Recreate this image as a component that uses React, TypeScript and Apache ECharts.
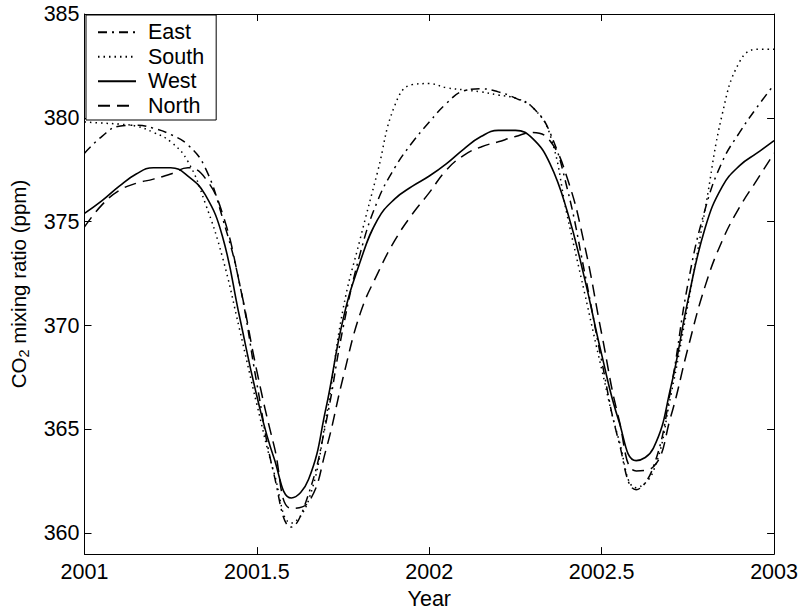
import React, { useEffect, useRef } from "react";
import * as echarts from "echarts";

const years = [
  2001.0, 2001.05, 2001.1, 2001.15, 2001.2, 2001.25, 2001.3, 2001.35, 2001.4, 2001.45,
  2001.5, 2001.55, 2001.6, 2001.65, 2001.7, 2001.75, 2001.8, 2001.85, 2001.9, 2001.95,
  2002.0, 2002.05, 2002.1, 2002.15, 2002.2, 2002.25, 2002.3, 2002.35, 2002.4, 2002.45,
  2002.5, 2002.55, 2002.6, 2002.65, 2002.7, 2002.75, 2002.8, 2002.85, 2002.9, 2002.95,
  2003.0,
];

const east = [
  378.3, 379.1, 379.6, 379.65, 379.5, 379.2, 378.7, 377.6, 375.2, 372.0,
  367.2, 362.8, 360.3, 361.9, 365.3, 369.9, 373.5, 376.0, 377.6, 378.8,
  379.8, 380.7, 381.3, 381.4, 381.25, 380.95, 380.5, 379.3, 376.6, 372.6,
  368.3, 364.4, 362.1, 363.2, 366.9, 372.0, 375.6, 377.9, 379.3, 380.5,
  381.6,
];

const south = [
  379.8, 379.75, 379.7, 379.6, 379.3, 378.85, 377.9, 375.9, 373.3, 369.8,
  366.2, 362.9, 360.5, 361.6, 365.5, 370.8, 374.2, 377.4, 380.6, 381.6,
  381.65, 381.45, 381.35, 381.25, 381.1, 380.95, 380.5, 379.2, 375.3, 371.6,
  367.9, 364.5, 362.2, 363.0, 366.6, 371.0, 375.6, 380.2, 382.7, 383.3,
  383.3,
];

const west = [
  375.4, 376.0, 376.7, 377.3, 377.6, 377.6, 377.2, 376.3, 374.3, 370.4,
  366.6, 363.6, 361.7, 362.6, 366.0, 370.3, 373.1, 375.1, 376.1, 376.7,
  377.2, 377.8, 378.5, 379.1, 379.4, 379.4, 379.0, 377.8, 375.5, 372.3,
  368.6, 365.4, 363.5, 364.1, 367.0, 371.2, 374.7, 376.7, 377.7, 378.3,
  378.9,
];

const north = [
  374.75, 375.8, 376.5, 376.85, 377.05, 377.3, 377.6, 377.1, 375.4, 372.0,
  367.8, 364.2, 361.2, 361.5, 364.0, 367.5, 370.6, 372.5, 374.1, 375.35,
  376.4, 377.5, 378.2, 378.6, 378.85, 379.1, 379.3, 378.9, 377.1, 373.9,
  369.6, 365.5, 363.0, 363.2, 365.6, 368.9, 371.9, 374.1, 375.7, 377.0,
  378.3,
];

const xTicks = [2001, 2001.5, 2002, 2002.5, 2003];
const yTicks = [360, 365, 370, 375, 380, 385];

const FONT = "'Liberation Sans', Arial, Helvetica, sans-serif";
const FS = 21.5;

export default function App() {
  const ref = useRef<HTMLDivElement>(null);

  useEffect(() => {
    if (!ref.current) return;
    const chart = echarts.init(ref.current, null, { renderer: "svg" });

    const axisLine = { show: true, onZero: false, lineStyle: { color: "#000", width: 1 } };
    const mk = (name: string, vals: number[], type: any, width = 1.5) => ({
      name,
      type: "line",
      xAxisIndex: 0,
      yAxisIndex: 0,
      data: years.map((x, i) => [x, vals[i]]),
      smooth: 0.45,
      symbol: "none",
      showSymbol: false,
      lineStyle: { color: "#000", width, type },
      itemStyle: { color: "#000" },
    });

    chart.setOption({
      animation: false,
      backgroundColor: "#fff",
      textStyle: { fontFamily: FONT },
      grid: { left: 82, right: 26, top: 14, bottom: 56, containLabel: false },
      legend: {
        orient: "vertical",
        left: 86,
        top: 15,
        padding: [5, 12, 2, 11],
        itemGap: 0,
        itemWidth: 38,
        itemHeight: 14,
        backgroundColor: "#fff",
        borderColor: "#000",
        borderWidth: 1,
        borderRadius: 0,
        itemStyle: { color: "rgba(0,0,0,0)", borderColor: "rgba(0,0,0,0)", borderWidth: 0, opacity: 0 },
        textStyle: { color: "#000", fontSize: FS, fontFamily: FONT, lineHeight: 24.5, padding: [0, 0, 0, 7] },
        data: ["East", "South", "West", "North"],
      },
      xAxis: [
        {
          type: "value",
          min: 2001,
          max: 2003,
          position: "bottom",
          axisLine,
          axisTick: { show: true, inside: true, length: 7, customValues: xTicks, lineStyle: { color: "#000" } },
          axisLabel: {
            customValues: xTicks,
            formatter: (v: number) => String(v),
            color: "#000",
            fontSize: FS,
            fontFamily: FONT,
            margin: 7,
          },
          splitLine: { show: false },
          name: "Year",
          nameLocation: "middle",
          nameGap: 31,
          nameTextStyle: { color: "#000", fontSize: FS, fontFamily: FONT },
        },
        {
          type: "value",
          min: 2001,
          max: 2003,
          position: "top",
          axisLine,
          axisTick: { show: true, inside: true, length: 7, customValues: xTicks, lineStyle: { color: "#000" } },
          axisLabel: { show: false },
          splitLine: { show: false },
        },
      ],
      yAxis: [
        {
          type: "value",
          min: 359,
          max: 385,
          position: "left",
          axisLine,
          axisTick: { show: true, inside: true, length: 7, customValues: yTicks, lineStyle: { color: "#000" } },
          axisLabel: {
            customValues: yTicks,
            formatter: (v: number) => String(v),
            color: "#000",
            fontSize: FS,
            fontFamily: FONT,
            margin: 5,
          },
          splitLine: { show: false },
          name: "{a|CO}{b|2}{a| mixing ratio (ppm)}",
          nameLocation: "middle",
          nameGap: 53,
          nameTextStyle: {
            color: "#000",
            fontFamily: FONT,
            rich: {
              a: { fontSize: 20.5, lineHeight: 26, color: "#000", fontFamily: FONT, verticalAlign: "middle" },
              b: { fontSize: 14.5, lineHeight: 14, color: "#000", fontFamily: FONT, verticalAlign: "bottom" },
            },
          },
        },
        {
          type: "value",
          min: 359,
          max: 385,
          position: "right",
          axisLine,
          axisTick: { show: true, inside: true, length: 7, customValues: yTicks, lineStyle: { color: "#000" } },
          axisLabel: { show: false },
          splitLine: { show: false },
        },
      ],
      series: [
        mk("East", east, [9, 5, 2, 5]),
        mk("South", south, [1.5, 4]),
        mk("West", west, "solid", 1.6),
        mk("North", north, [12, 7]),
      ],
    });

    return () => chart.dispose();
  }, []);

  return (
    <div
      ref={ref}
      style={{ position: "absolute", left: 0, top: 0, width: 801, height: 615 }}
    />
  );
}
